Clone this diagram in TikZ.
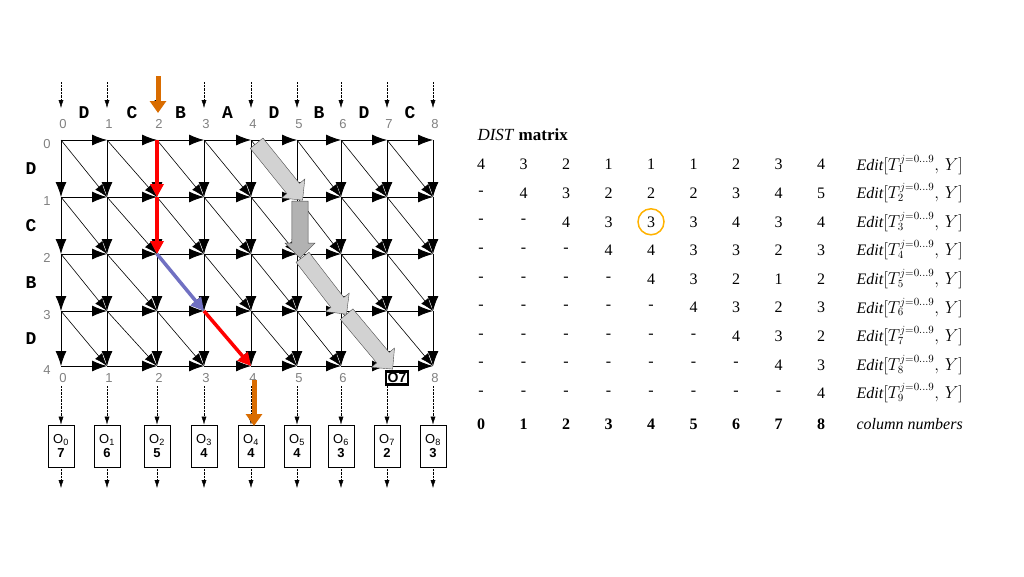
\documentclass[tikz,border=0pt]{standalone}
\usepackage{fontspec}
\setmainfont{Liberation Serif}
\newfontfamily\gridfont{Liberation Sans}
\newfontfamily\letfont{Liberation Mono}
\usetikzlibrary{arrows.meta, positioning, calc, shapes.arrows}
\tikzset{
  edgearrow/.style={thick, -{Latex[length=15pt,width=11pt]}},
  diagarrow/.style={semithick, -{Latex[length=13pt,width=9pt]}},
  feed/.style={densely dotted, -{Latex[length=8pt,width=5pt]}},
  idx/.style={font=\gridfont\fontsize{13}{13}\selectfont, text=gray},
  letter/.style={font=\letfont\bfseries\fontsize{18}{18}\selectfont},
  outbox/.style={draw, thick, minimum width=26pt, minimum height=42pt, inner sep=1pt, align=center, font=\gridfont\fontsize{13}{15}\selectfont},
  cell/.style={font=\fontsize{16}{16}\selectfont},
  fatarrow/.style={single arrow, draw=black!70, fill=gray!35, minimum width=30pt, single arrow head extend=6pt, single arrow head indent=0pt, inner sep=7pt},
  pointer/.style={draw=orange!85!black, line width=5pt, -{Triangle[length=12pt,width=16pt]}}
}
\begin{document}
\begin{tikzpicture}[x=1pt, y=-1pt]
  \useasboundingbox (0,0) rectangle (1024,576);
  % grid points
  \foreach \c/\x in {0/61,1/107,2/157,3/204,4/251,5/297,6/341,7/387,8/433}
    \foreach \r/\y in {0/140,1/197,2/254,3/311,4/366}
      \coordinate (g\r\c) at (\x,\y);
  \foreach \c [evaluate=\c as \n using int(\c+1)] in {0,...,7}
    \foreach \r in {0,...,4}
      \draw[edgearrow] (g\r\c) -- (g\r\n);
  \foreach \r [evaluate=\r as \m using int(\r+1)] in {0,...,3} {
    \foreach \c in {0,...,8}
      \draw[edgearrow] (g\r\c) -- (g\m\c);
    \foreach \c [evaluate=\c as \n using int(\c+1)] in {0,...,7}
      \draw[diagarrow] (g\r\c) -- (g\m\n);
  }
  % indices and letters
  \foreach \c in {0,...,8} {
    \node[idx] (top\c) at ($(g0\c)+(2,-16)$) {\c};
    \coordinate (in\c) at ($(g0\c)+(0,-58)$);
    \draw[feed] (in\c) -- ++(0,26);
  }
  \foreach \c in {0,...,6,8}
    \node[idx] (bot\c) at ($(g4\c)+(2,12)$) {\c};
  \foreach \r in {0,...,4}
    \node[idx] (row\r) at ($(g\r0)+(-14,4)$) {\r};
  \foreach \t [count=\i from 0] in {D,C,B,A,D,B,D,C}
    \node[letter] (col\i) at ($(g0\i)!.5!(g0\the\numexpr\i+1\relax)+(0,-27)$) {\t};
  \foreach \t [count=\i from 0] in {D,C,B,D}
    \node[letter] (lft\i) at ($(g\i0)!.5!(g\the\numexpr\i+1\relax0)+(-30,0)$) {\t};
  % path arrows
  \draw[red, line width=3.5pt, -{Triangle[length=13pt,width=13pt]}] (g02) -- (g12);
  \draw[red, line width=3.5pt, -{Triangle[length=13pt,width=13pt]}] (g12) -- (g22);
  \draw[blue!40!gray!80, line width=3.5pt, -{Triangle[length=13pt,width=13pt]}] (g22) -- (g33);
  \draw[red, line width=3.5pt, -{Triangle[length=13pt,width=13pt]}] (g33) -- (g44);
  \foreach \a/\b/\f in {g04/g15/gray!35, g15/g25/gray!60, g25/g36/gray!35, g36/g47/gray!35}
    \path let \p1=($(\b)-(\a)$), \n1={atan2(\y1,\x1)}, \n2={veclen(\x1,\y1)} in
      node[fatarrow, fill=\f, minimum height=\n2, rotate=\n1] at ($(\a)!.5!(\b)+(3,0)$) {};
  % outputs
  \foreach \c/\v in {0/7,1/6,2/5,3/4,4/4,5/4,6/3,7/2,8/3} {
    \node[outbox] (o\c) at ($(g4\c)+(0,80)$) {O\textsubscript{\c}\\[-1pt]\textbf{\v}};
    \draw[feed] ($(g4\c)+(0,20)$) -- (o\c);
    \draw[feed] (o\c) -- ++(0,42);
  }
  \node[draw, line width=2.5pt, font=\gridfont\bfseries\fontsize{14}{14}\selectfont, inner sep=1.5pt, fill=white] (best) at ($(g47)+(10,12)$) {O7};
  \draw[pointer] (158,76) -- (158,113);
  \draw[pointer] (254,380) -- (254,426);
  % DIST matrix
  \node[anchor=west, font=\fontsize{17}{17}\selectfont] (title) at (474,135) {\textit{DIST} \textbf{matrix}};
  \foreach \row [count=\r] in {{4,3,2,1,1,1,2,3,4},{-,4,3,2,2,2,3,4,5},{-,-,4,3,3,3,4,3,4},{-,-,-,4,4,3,3,2,3},{-,-,-,-,4,3,2,1,2},{-,-,-,-,-,4,3,2,3},{-,-,-,-,-,-,4,3,2},{-,-,-,-,-,-,-,4,3},{-,-,-,-,-,-,-,-,4}} {
    \foreach \v [count=\c from 0] in \row
      \node[cell] (m\r\c) at (481+42.5*\c, 136+28.6*\r) {\v};
    \node[cell, anchor=west] (ed\r) at (853, 136+28.6*\r) {\textit{Edit}$[T_{\r}^{j=0\ldots9},\,Y]$};
  }
  \foreach \c in {0,...,8}
    \node[cell, font=\bfseries\fontsize{16}{16}\selectfont] (cn\c) at (481+42.5*\c, 424) {\c};
  \node[cell, anchor=west] (cnlab) at (853, 424) {\textit{column numbers}};
  \draw[orange!60!yellow, line width=1.5pt] (m34) circle (13pt);
\end{tikzpicture}
\end{document}
